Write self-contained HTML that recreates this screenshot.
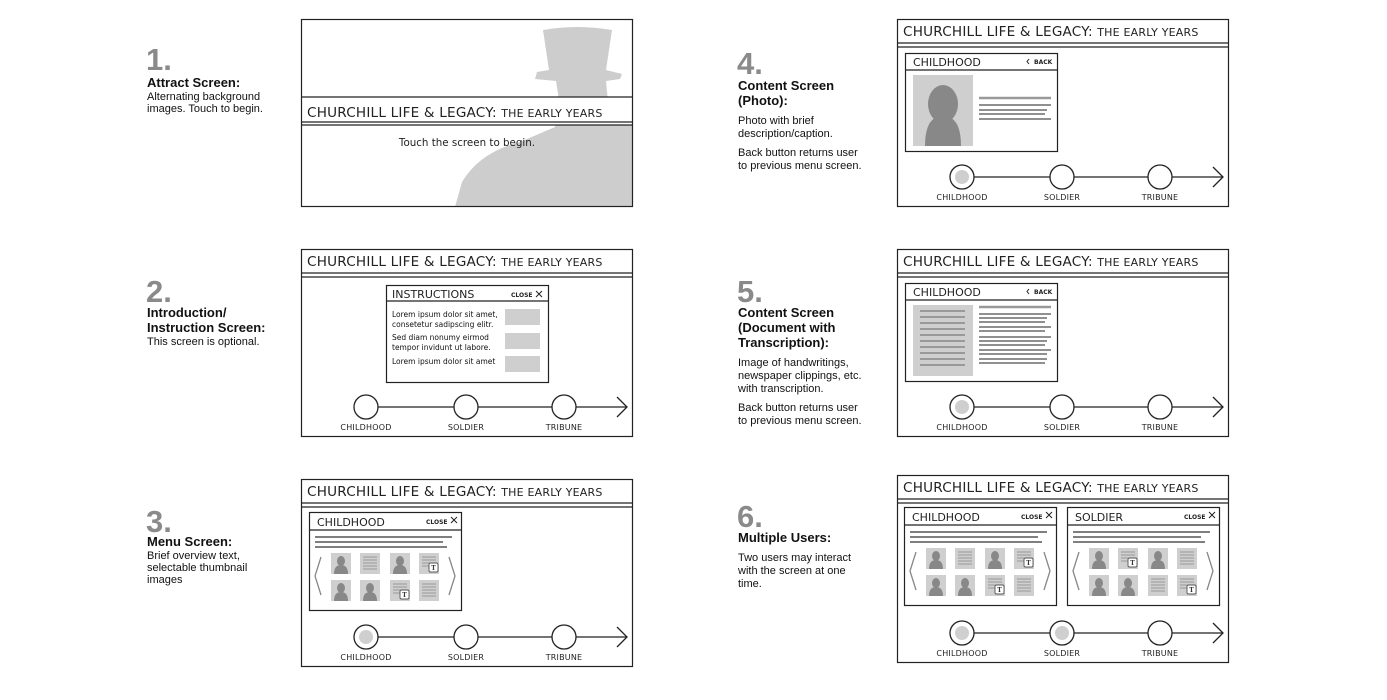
<!DOCTYPE html>
<html><head><meta charset="utf-8"><style>
html,body{margin:0;padding:0;background:#fff;}
svg{display:block;}
.num{font-family:"Liberation Sans",Arial,sans-serif;font-weight:bold;font-size:31px;fill:#8a8a8a;}
.ttl{font-family:"Liberation Sans",Arial,sans-serif;font-weight:bold;font-size:13px;fill:#111;}
.dsc{font-family:"Liberation Sans",Arial,sans-serif;font-size:11px;fill:#111;}
.hd{font-family:"DejaVu Sans","Liberation Sans",sans-serif;font-size:13.6px;fill:#222;letter-spacing:0.2px;}
.hds{font-size:11px;}
.ph{font-family:"DejaVu Sans","Liberation Sans",sans-serif;font-size:11px;fill:#222;}
.ph2{font-family:"DejaVu Sans","Liberation Sans",sans-serif;font-size:10.3px;fill:#222;}
.sm{font-family:"DejaVu Sans","Liberation Sans",sans-serif;font-size:6px;fill:#222;font-weight:bold;}
.tl{font-family:"DejaVu Sans","Liberation Sans",sans-serif;font-size:8px;fill:#222;letter-spacing:0.2px;}
.lor{font-family:"DejaVu Sans","Liberation Sans",sans-serif;font-size:7.5px;fill:#111;}
.tt{font-family:"DejaVu Serif",serif;font-size:6px;font-weight:bold;fill:#333;}
</style></head><body>
<svg width="1387" height="700" viewBox="0 0 1387 700" xmlns="http://www.w3.org/2000/svg">
<defs>
 <g id="tline" fill="none" stroke="#222" stroke-width="1.3">
  <line x1="77" y1="158" x2="325" y2="158"/>
  <polyline points="316,148 326,158 316,168"/>
  <circle cx="65" cy="158" r="12" fill="#fff"/>
  <circle cx="165" cy="158" r="12" fill="#fff"/>
  <circle cx="263" cy="158" r="12" fill="#fff"/>
 </g>
 <g id="hdr" stroke="#222" stroke-width="1.2"><line x1="0" y1="24" x2="332" y2="24"/><line x1="0" y1="28" x2="332" y2="28"/></g>
 <g id="pers"><rect width="20" height="21" fill="#cfcfcf"/><ellipse cx="10" cy="8" rx="4" ry="5" fill="#888"/><path d="M3,21 Q3,12 10,12 Q17,12 17,21Z" fill="#888"/></g>
 <g id="doc"><rect width="20" height="21" fill="#cfcfcf"/><g stroke="#999" stroke-width="1"><line x1="3" y1="4" x2="17" y2="4"/><line x1="3" y1="7" x2="17" y2="7"/><line x1="3" y1="10" x2="17" y2="10"/><line x1="3" y1="13" x2="17" y2="13"/><line x1="3" y1="16" x2="17" y2="16"/></g></g>
 <g id="tdoc"><rect width="20" height="21" fill="#cfcfcf"/><g stroke="#999" stroke-width="1"><line x1="3" y1="4" x2="17" y2="4"/><line x1="3" y1="7" x2="17" y2="7"/><line x1="3" y1="10" x2="10" y2="10"/><line x1="3" y1="13" x2="10" y2="13"/></g><rect x="10" y="10" width="9" height="9" rx="1.5" fill="#fff" stroke="#555" stroke-width="0.9"/></g>
 <g id="menu">
  <g stroke="#333" stroke-width="1.2"><line x1="6" y1="25" x2="143" y2="25"/><line x1="6" y1="30" x2="134" y2="30"/><line x1="6" y1="35" x2="138" y2="35"/></g>
  <polyline points="12,45 6,64 12,83" fill="none" stroke="#888" stroke-width="1.3"/>
  <polyline points="140,45 146,64 140,83" fill="none" stroke="#888" stroke-width="1.3"/>
 </g>
</defs>

<!-- left labels -->
<text class="num" x="146" y="70">1.</text>
<text class="ttl" x="147" y="87">Attract Screen:</text>
<text class="dsc" x="147" y="100">Alternating background</text>
<text class="dsc" x="147" y="112">images. Touch to begin.</text>

<text class="num" x="146" y="302">2.</text>
<text class="ttl" x="147" y="317">Introduction/</text>
<text class="ttl" x="147" y="332">Instruction Screen:</text>
<text class="dsc" x="147" y="345">This screen is optional.</text>

<text class="num" x="146" y="532">3.</text>
<text class="ttl" x="147" y="546">Menu Screen:</text>
<text class="dsc" x="147" y="559">Brief overview text,</text>
<text class="dsc" x="147" y="571">selectable thumbnail</text>
<text class="dsc" x="147" y="583">images</text>

<text class="num" x="737" y="74">4.</text>
<text class="ttl" x="738" y="90">Content Screen</text>
<text class="ttl" x="738" y="105">(Photo):</text>
<text class="dsc" x="738" y="124">Photo with brief</text>
<text class="dsc" x="738" y="137">description/caption.</text>
<text class="dsc" x="738" y="156">Back button returns user</text>
<text class="dsc" x="738" y="169">to previous menu screen.</text>

<text class="num" x="737" y="302">5.</text>
<text class="ttl" x="738" y="317">Content Screen</text>
<text class="ttl" x="738" y="332">(Document with</text>
<text class="ttl" x="738" y="347">Transcription):</text>
<text class="dsc" x="738" y="366">Image of handwritings,</text>
<text class="dsc" x="738" y="379">newspaper clippings, etc.</text>
<text class="dsc" x="738" y="392">with transcription.</text>
<text class="dsc" x="738" y="411">Back button returns user</text>
<text class="dsc" x="738" y="424">to previous menu screen.</text>

<text class="num" x="737" y="527">6.</text>
<text class="ttl" x="738" y="542">Multiple Users:</text>
<text class="dsc" x="738" y="561">Two users may interact</text>
<text class="dsc" x="738" y="574">with the screen at one</text>
<text class="dsc" x="738" y="587">time.</text>

<!-- Screen 1 -->
<path d="M543,30 Q577,24 612,30 L606,70 L622,74 L620,79 L606,81 L609,112 L633,122 L633,207 L455,207 L462,182 Q480,152 520,142 L555,127 L560,106 L556,81 L535,79 L537,72 L549,70 Z" fill="#cdcdcd"/>
<g transform="translate(301,19)">
 <rect x="0" y="78" width="332" height="28" fill="#fff"/>
 <g stroke="#222" stroke-width="1.2"><line x1="0" y1="78" x2="332" y2="78"/><line x1="0" y1="103" x2="332" y2="103"/><line x1="0" y1="106" x2="332" y2="106"/></g>
 <text class="hd" x="6" y="98">CHURCHILL LIFE &amp; LEGACY: <tspan class="hds">THE EARLY YEARS</tspan></text>
 <text class="ph2" x="166" y="127" text-anchor="middle">Touch the screen to begin.</text>
 <rect x="0.5" y="0.5" width="331" height="187" fill="none" stroke="#222" stroke-width="1.2"/>
</g>

<!-- Screen 2 -->
<g transform="translate(301,249)">
 <rect x="0.5" y="0.5" width="331" height="187" fill="#fff" stroke="#222" stroke-width="1.2"/>
 <use href="#hdr"/>
 <text class="hd" x="6" y="17">CHURCHILL LIFE &amp; LEGACY: <tspan class="hds">THE EARLY YEARS</tspan></text>
 <rect x="85.5" y="36.5" width="162" height="97" fill="#fff" stroke="#222" stroke-width="1.2"/>
 <line x1="85" y1="52" x2="248" y2="52" stroke="#222" stroke-width="1.2"/>
 <text class="ph" x="91" y="49">INSTRUCTIONS</text>
 <text class="sm" x="210" y="48">CLOSE</text>
 <path d="M235,42 l6,6 M241,42 l-6,6" stroke="#222" stroke-width="1"/>
 <text class="lor" x="91" y="68">Lorem ipsum dolor sit amet,</text>
 <text class="lor" x="91" y="78">consetetur sadipscing elitr.</text>
 <text class="lor" x="91" y="91">Sed diam nonumy eirmod</text>
 <text class="lor" x="91" y="101">tempor invidunt ut labore.</text>
 <text class="lor" x="91" y="115">Lorem ipsum dolor sit amet</text>
 <rect x="204" y="60" width="35" height="16" fill="#cfcfcf"/>
 <rect x="204" y="84" width="35" height="16" fill="#cfcfcf"/>
 <rect x="204" y="107" width="35" height="16" fill="#cfcfcf"/>
 <use href="#tline"/>
 <text class="tl" x="65" y="181" text-anchor="middle">CHILDHOOD</text>
 <text class="tl" x="165" y="181" text-anchor="middle">SOLDIER</text>
 <text class="tl" x="263" y="181" text-anchor="middle">TRIBUNE</text>
</g>

<!-- Screen 3 -->
<g transform="translate(301,479)">
 <rect x="0.5" y="0.5" width="331" height="187" fill="#fff" stroke="#222" stroke-width="1.2"/>
 <use href="#hdr"/>
 <text class="hd" x="6" y="17">CHURCHILL LIFE &amp; LEGACY: <tspan class="hds">THE EARLY YEARS</tspan></text>
 <g transform="translate(8,33)">
  <rect x="0.5" y="0.5" width="152" height="98" fill="#fff" stroke="#222" stroke-width="1.2"/>
  <line x1="0" y1="18" x2="153" y2="18" stroke="#222" stroke-width="1.2"/>
  <text class="ph" x="8" y="14">CHILDHOOD</text>
  <text class="sm" x="117" y="12">CLOSE</text>
  <path d="M142,5 l6,6 M148,5 l-6,6" stroke="#222" stroke-width="1"/>
  <use href="#menu"/>
  <use href="#pers" x="22" y="41"/><use href="#doc" x="51" y="41"/><use href="#pers" x="81" y="41"/><use href="#tdoc" x="110" y="41"/>
  <use href="#pers" x="22" y="68"/><use href="#pers" x="51" y="68"/><use href="#tdoc" x="81" y="68"/><use href="#doc" x="110" y="68"/>
  <text class="tt" x="124.5" y="58" text-anchor="middle">T</text>
  <text class="tt" x="95.5" y="85" text-anchor="middle">T</text>
 </g>
 <use href="#tline"/>
 <circle cx="65" cy="158" r="7" fill="#cfcfcf"/>
 <text class="tl" x="65" y="181" text-anchor="middle">CHILDHOOD</text>
 <text class="tl" x="165" y="181" text-anchor="middle">SOLDIER</text>
 <text class="tl" x="263" y="181" text-anchor="middle">TRIBUNE</text>
</g>

<!-- Screen 4 -->
<g transform="translate(897,19)">
 <rect x="0.5" y="0.5" width="331" height="187" fill="#fff" stroke="#222" stroke-width="1.2"/>
 <use href="#hdr"/>
 <text class="hd" x="6" y="17">CHURCHILL LIFE &amp; LEGACY: <tspan class="hds">THE EARLY YEARS</tspan></text>
 <rect x="8.5" y="34.5" width="152" height="98" fill="#fff" stroke="#222" stroke-width="1.2"/>
 <line x1="8" y1="51" x2="161" y2="51" stroke="#222" stroke-width="1.2"/>
 <text class="ph" x="16" y="47">CHILDHOOD</text>
 <path d="M132,40 l-2,2.5 l2,2.5" fill="none" stroke="#222" stroke-width="1"/>
 <text class="sm" x="137" y="45">BACK</text>
 <rect x="16" y="56" width="60" height="71" fill="#cfcfcf"/>
 <ellipse cx="46" cy="85" rx="15" ry="19" fill="#888"/>
 <path d="M28,127 Q28,97 46,97 Q64,97 64,127Z" fill="#888"/>
 <line x1="82" y1="79" x2="154" y2="79" stroke="#999" stroke-width="2.5"/>
 <g stroke="#222" stroke-width="1.1"><line x1="82" y1="86" x2="154" y2="86"/><line x1="82" y1="91" x2="150" y2="91"/><line x1="82" y1="95" x2="148" y2="95"/><line x1="82" y1="100" x2="154" y2="100"/></g>
 <use href="#tline"/>
 <circle cx="65" cy="158" r="7" fill="#cfcfcf"/>
 <text class="tl" x="65" y="181" text-anchor="middle">CHILDHOOD</text>
 <text class="tl" x="165" y="181" text-anchor="middle">SOLDIER</text>
 <text class="tl" x="263" y="181" text-anchor="middle">TRIBUNE</text>
</g>

<!-- Screen 5 -->
<g transform="translate(897,249)">
 <rect x="0.5" y="0.5" width="331" height="187" fill="#fff" stroke="#222" stroke-width="1.2"/>
 <use href="#hdr"/>
 <text class="hd" x="6" y="17">CHURCHILL LIFE &amp; LEGACY: <tspan class="hds">THE EARLY YEARS</tspan></text>
 <rect x="8.5" y="34.5" width="152" height="98" fill="#fff" stroke="#222" stroke-width="1.2"/>
 <line x1="8" y1="51" x2="161" y2="51" stroke="#222" stroke-width="1.2"/>
 <text class="ph" x="16" y="47">CHILDHOOD</text>
 <path d="M132,40 l-2,2.5 l2,2.5" fill="none" stroke="#222" stroke-width="1"/>
 <text class="sm" x="137" y="45">BACK</text>
 <rect x="16" y="56" width="60" height="71" fill="#cfcfcf"/>
 <g stroke="#999" stroke-width="2"><line x1="23" y1="62" x2="68" y2="62"/><line x1="23" y1="68" x2="68" y2="68"/><line x1="23" y1="74" x2="68" y2="74"/><line x1="23" y1="80" x2="68" y2="80"/><line x1="23" y1="86" x2="68" y2="86"/><line x1="23" y1="92" x2="68" y2="92"/><line x1="23" y1="98" x2="68" y2="98"/><line x1="23" y1="104" x2="68" y2="104"/><line x1="23" y1="110" x2="68" y2="110"/><line x1="23" y1="116" x2="68" y2="116"/></g>
 <line x1="82" y1="58" x2="154" y2="58" stroke="#999" stroke-width="2.5"/>
 <g stroke="#222" stroke-width="1"><line x1="82" y1="65" x2="154" y2="65"/><line x1="82" y1="69" x2="150" y2="69"/><line x1="82" y1="73" x2="148" y2="73"/><line x1="82" y1="78" x2="154" y2="78"/><line x1="82" y1="82" x2="148" y2="82"/><line x1="82" y1="88" x2="154" y2="88"/><line x1="82" y1="92" x2="150" y2="92"/><line x1="82" y1="96" x2="148" y2="96"/><line x1="82" y1="101" x2="154" y2="101"/><line x1="82" y1="105" x2="150" y2="105"/><line x1="82" y1="110" x2="150" y2="110"/><line x1="82" y1="114" x2="148" y2="114"/></g>
 <use href="#tline"/>
 <circle cx="65" cy="158" r="7" fill="#cfcfcf"/>
 <text class="tl" x="65" y="181" text-anchor="middle">CHILDHOOD</text>
 <text class="tl" x="165" y="181" text-anchor="middle">SOLDIER</text>
 <text class="tl" x="263" y="181" text-anchor="middle">TRIBUNE</text>
</g>

<!-- Screen 6 -->
<g transform="translate(897,475)">
 <rect x="0.5" y="0.5" width="331" height="187" fill="#fff" stroke="#222" stroke-width="1.2"/>
 <use href="#hdr"/>
 <text class="hd" x="6" y="17">CHURCHILL LIFE &amp; LEGACY: <tspan class="hds">THE EARLY YEARS</tspan></text>
 <g transform="translate(7,32)">
  <rect x="0.5" y="0.5" width="152" height="98" fill="#fff" stroke="#222" stroke-width="1.2"/>
  <line x1="0" y1="18" x2="153" y2="18" stroke="#222" stroke-width="1.2"/>
  <text class="ph" x="8" y="14">CHILDHOOD</text>
  <text class="sm" x="117" y="12">CLOSE</text>
  <path d="M142,5 l6,6 M148,5 l-6,6" stroke="#222" stroke-width="1"/>
  <use href="#menu"/>
  <use href="#pers" x="22" y="41"/><use href="#doc" x="51" y="41"/><use href="#pers" x="81" y="41"/><use href="#tdoc" x="110" y="41"/>
  <use href="#pers" x="22" y="68"/><use href="#pers" x="51" y="68"/><use href="#tdoc" x="81" y="68"/><use href="#doc" x="110" y="68"/>
  <text class="tt" x="124.5" y="58" text-anchor="middle">T</text>
  <text class="tt" x="95.5" y="85" text-anchor="middle">T</text>
 </g>
 <g transform="translate(170,32)">
  <rect x="0.5" y="0.5" width="152" height="98" fill="#fff" stroke="#222" stroke-width="1.2"/>
  <line x1="0" y1="18" x2="153" y2="18" stroke="#222" stroke-width="1.2"/>
  <text class="ph" x="8" y="14">SOLDIER</text>
  <text class="sm" x="117" y="12">CLOSE</text>
  <path d="M142,5 l6,6 M148,5 l-6,6" stroke="#222" stroke-width="1"/>
  <use href="#menu"/>
  <use href="#pers" x="22" y="41"/><use href="#tdoc" x="51" y="41"/><use href="#pers" x="81" y="41"/><use href="#doc" x="110" y="41"/>
  <use href="#pers" x="22" y="68"/><use href="#pers" x="51" y="68"/><use href="#doc" x="81" y="68"/><use href="#tdoc" x="110" y="68"/>
  <text class="tt" x="65.5" y="58" text-anchor="middle">T</text>
  <text class="tt" x="124.5" y="85" text-anchor="middle">T</text>
 </g>
 <use href="#tline"/>
 <circle cx="65" cy="158" r="7" fill="#cfcfcf"/>
 <circle cx="165" cy="158" r="7" fill="#cfcfcf"/>
 <text class="tl" x="65" y="181" text-anchor="middle">CHILDHOOD</text>
 <text class="tl" x="165" y="181" text-anchor="middle">SOLDIER</text>
 <text class="tl" x="263" y="181" text-anchor="middle">TRIBUNE</text>
</g>
</svg>
</body></html>
